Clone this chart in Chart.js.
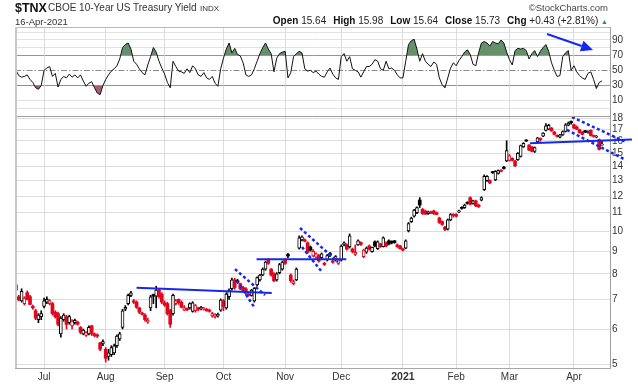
<!DOCTYPE html>
<html><head><meta charset="utf-8">
<script src="https://cdn.jsdelivr.net/npm/chart.js@4.4.1/dist/chart.umd.min.js"></script>
<style>
html,body{margin:0;padding:0;background:#fff;}
#wrap{position:relative;width:638px;height:384px;overflow:hidden;font-family:"Liberation Sans",Arial,sans-serif;color:#222;background:#fff;}
#c{position:absolute;left:0;top:0;width:638px;height:384px;}
.t{position:absolute;white-space:nowrap;}
.b{font-weight:bold;color:#111;}
.g{margin-left:7px;}
</style></head><body>
<div id="wrap">
<canvas id="c" width="638" height="384"></canvas>
<div class="t" style="left:15px;top:2px;font-weight:bold;font-size:12.5px;line-height:12px;color:#111;">$TNX</div>
<div class="t" style="left:48px;top:3px;font-size:10px;line-height:10px;color:#333;">CBOE 10-Year US Treasury Yield</div>
<div class="t" style="left:200px;top:5px;font-size:8px;line-height:8px;color:#333;">INDX</div>
<div class="t" style="left:15px;top:17px;font-size:9.5px;line-height:10px;color:#333;">16-Apr-2021</div>
<div class="t" style="right:30px;top:3px;font-size:9.5px;line-height:10px;color:#444;">©StockCharts.com</div>
<div class="t" style="right:30px;top:15.5px;font-size:10px;line-height:10px;color:#222;"><span class="b">Open</span> 15.64<span class="g b">High</span> 15.98<span class="g b">Low</span> 15.64<span class="g b">Close</span> 15.73<span class="g b">Chg</span> +0.43 (+2.81%) <span style="color:#2a9a2a;font-size:7px;">▲</span></div>
</div>
<script>
// ---- DATA ----
const monthIdx = [10,32,53,74,96,116,138,157,176,199];
const monthLabels = ['Jul','Aug','Sep','Oct','Nov','Dec','2021','Feb','Mar','Apr'];
const priceTicks = [5,6,7,8,9,10,11,12,13,14,15,16,17,18];
const rsiTicks = [10,30,50,70,90];
const rsiGrid = [0,10,30,50,70,80,90,100];

const open = [7.55,7.10,6.95,6.85,7.25,7.10,6.75,6.60,6.30,6.40,
6.75,6.90,6.85,6.85,6.55,6.50,5.85,6.30,6.40,6.20,
6.10,6.20,6.22,6.05,5.85,5.80,5.85,6.10,5.85,5.82,
5.58,5.55,5.40,5.20,5.25,5.30,5.50,5.70,6.05,6.65,
6.85,7.15,6.95,6.90,6.70,6.52,6.45,6.22,6.70,7.18,
7.12,7.35,7.20,6.88,6.85,6.60,6.50,6.85,7.00,6.90,
6.62,6.68,6.70,6.58,6.60,6.70,6.66,6.65,6.65,6.62,
6.42,6.40,6.42,6.62,6.95,6.70,7.10,7.40,7.75,7.72,
7.60,7.45,7.40,7.20,7.15,6.95,7.55,7.75,7.95,8.20,
8.60,8.20,8.00,7.75,8.05,8.20,8.60,8.85,7.95,7.60,
7.75,9.15,9.55,9.55,9.40,9.20,8.78,8.72,8.80,8.70,
8.45,8.60,8.90,8.55,8.60,8.45,8.60,9.30,9.30,9.20,
9.10,8.85,9.30,9.42,8.75,8.95,9.25,8.98,9.45,9.12,
9.35,9.22,9.40,9.50,9.48,9.50,9.30,9.25,9.10,9.15,
10.00,10.50,10.80,11.00,11.75,11.20,11.10,10.95,11.05,11.10,
11.00,10.70,10.50,10.20,10.10,10.60,10.90,10.90,11.05,11.30,
11.30,11.60,11.90,11.55,11.70,11.45,11.75,12.40,13.00,13.00,
13.60,13.05,13.50,13.72,13.95,14.40,14.45,14.60,14.40,14.50,
14.75,15.50,16.05,15.65,15.50,15.15,15.90,16.20,16.40,16.90,
17.00,17.10,16.75,16.45,16.30,16.50,16.80,17.35,17.70,17.40,
17.20,16.95,16.75,16.85,16.70,16.90,16.45,16.30,16.10,15.64];
const high = [7.60,7.15,7.40,7.10,7.32,7.15,6.80,6.65,6.50,6.60,
7.05,7.10,7.00,6.90,6.60,6.55,6.40,6.50,6.45,6.45,
6.30,6.32,6.25,6.08,6.00,5.92,6.10,6.12,5.88,5.85,
5.60,5.67,5.45,5.40,5.50,5.55,5.82,5.90,6.65,6.78,
7.20,7.30,7.00,6.95,6.72,6.55,6.50,6.35,7.15,7.20,
7.50,7.40,7.25,6.95,6.90,6.65,7.20,7.00,7.02,6.95,
6.78,6.70,6.88,6.92,6.82,6.72,6.75,6.72,6.68,6.66,
6.55,6.50,6.52,7.02,7.00,7.25,7.40,7.82,7.82,7.78,
7.62,7.50,7.45,7.22,7.38,7.45,7.88,7.98,8.25,8.55,
8.65,8.22,8.05,8.05,8.45,8.55,8.65,8.90,8.00,7.75,
8.25,9.75,9.75,9.60,9.45,9.25,9.08,8.92,8.85,8.92,
8.50,8.85,8.95,8.60,8.80,8.65,9.30,9.45,9.35,9.85,
9.15,9.30,9.55,9.45,9.10,9.20,9.30,9.20,9.50,9.50,
9.38,9.70,9.45,9.55,9.50,9.52,9.35,9.28,9.15,9.55,
10.45,10.75,11.20,11.35,11.90,11.25,11.15,11.10,11.10,11.15,
11.05,10.75,10.55,10.25,10.65,10.95,10.95,10.95,11.15,11.35,
11.50,11.65,11.95,11.75,11.75,11.50,11.95,13.40,13.35,13.05,
13.65,13.70,13.75,13.78,14.00,16.00,14.90,14.65,14.45,15.05,
15.65,15.85,16.10,15.70,15.55,15.50,16.30,16.25,16.70,17.50,
17.45,17.15,16.80,16.50,16.55,16.85,17.50,17.65,17.75,17.45,
17.30,17.00,16.80,16.90,16.85,16.95,16.50,16.45,16.15,15.98];
const low = [7.30,6.95,6.90,6.80,6.98,6.80,6.65,6.30,6.20,6.30,
6.70,6.85,6.80,6.45,6.35,6.10,5.75,6.25,6.00,6.15,
6.00,6.15,6.12,5.85,5.82,5.77,5.82,5.80,5.76,5.74,
5.36,5.50,5.05,5.10,5.20,5.25,5.45,5.65,6.00,6.60,
6.80,7.10,6.85,6.68,6.50,6.45,6.25,6.18,6.60,6.85,
6.70,7.05,6.85,6.75,6.45,6.05,6.45,6.80,6.82,6.70,
6.60,6.60,6.65,6.55,6.55,6.60,6.63,6.62,6.58,6.55,
6.38,6.35,6.38,6.58,6.60,6.65,7.00,7.35,7.38,7.62,
7.36,7.28,7.18,7.12,7.12,6.90,7.50,7.70,7.92,8.15,
8.40,7.90,7.68,7.70,8.00,8.15,8.40,8.70,7.65,7.55,
7.72,9.10,9.50,9.45,8.90,9.00,8.75,8.68,8.50,8.65,
8.35,8.55,8.75,8.45,8.55,8.40,8.55,9.25,9.05,9.15,
8.92,8.80,9.28,9.28,8.70,8.90,9.05,8.95,9.20,9.08,
9.18,9.20,9.20,9.30,9.35,9.38,9.18,9.10,9.02,9.12,
9.95,10.45,10.75,10.95,11.30,10.90,10.90,10.90,10.95,10.90,
10.88,10.40,10.30,10.02,10.05,10.55,10.75,10.75,11.00,11.20,
11.25,11.50,11.45,11.50,11.35,11.30,11.70,12.35,12.95,12.80,
13.50,13.00,13.45,13.60,13.80,14.35,14.40,14.40,13.98,14.45,
14.70,15.45,15.95,15.20,15.10,15.05,15.85,15.95,16.35,16.85,
16.95,16.80,16.50,16.30,16.25,16.45,16.75,17.30,17.45,17.05,
16.95,16.65,16.50,16.70,16.65,16.40,16.30,16.25,15.25,15.64];
const close = [7.35,6.98,7.30,7.05,7.00,6.82,6.70,6.35,6.45,6.50,
6.95,7.00,6.95,6.50,6.40,6.15,6.35,6.45,6.15,6.40,
6.25,6.28,6.15,5.90,5.97,5.90,6.05,5.85,5.80,5.78,
5.40,5.62,5.15,5.30,5.45,5.50,5.78,5.85,6.60,6.72,
7.15,7.25,6.90,6.72,6.55,6.48,6.30,6.28,7.10,7.12,
7.35,7.10,6.90,6.80,6.50,6.15,7.15,6.95,6.88,6.72,
6.70,6.63,6.85,6.88,6.78,6.65,6.72,6.68,6.60,6.58,
6.50,6.45,6.48,6.98,6.75,7.20,7.35,7.75,7.45,7.68,
7.40,7.30,7.22,7.15,7.35,7.42,7.85,7.95,8.20,8.50,
8.45,7.95,7.72,8.00,8.40,8.50,8.45,8.78,7.72,7.68,
8.20,9.65,9.70,9.48,8.95,9.05,9.00,8.88,8.55,8.88,
8.40,8.80,8.82,8.50,8.75,8.60,9.25,9.40,9.10,9.75,
8.98,8.95,9.50,9.32,9.05,9.15,9.10,9.18,9.25,9.45,
9.22,9.65,9.25,9.35,9.40,9.42,9.22,9.12,9.05,9.50,
10.40,10.70,11.15,11.30,11.45,10.95,10.92,11.05,10.98,10.95,
10.90,10.45,10.35,10.08,10.60,10.90,10.85,10.80,11.10,11.25,
11.45,11.55,11.50,11.70,11.40,11.35,11.90,13.30,13.30,12.85,
13.55,13.65,13.70,13.65,13.85,15.20,14.80,14.45,14.05,15.00,
15.60,15.80,15.98,15.25,15.15,15.45,16.25,16.10,16.65,17.30,
17.35,16.85,16.55,16.38,16.50,16.80,17.40,17.55,17.58,17.10,
17.00,16.70,16.55,16.78,16.80,16.45,16.38,16.40,15.30,15.73];
const rsi = [50,43,41,42,44,38,34,27,25,30, 50,53,55,42,46,28,38,42,40,45,
41,44,40,44,36,29,33,35,27,20, 18,30,38,44,49,52,56,65,80,84,
86,78,62,58,52,47,44,57,68,80, 74,62,53,45,34,27,62,55,49,48,
46,52,47,56,52,44,42,47,40,38, 42,33,29,52,66,78,86,73,79,71,
69,60,44,42,44,52,62,72,80,86, 78,72,48,66,72,74,75,40,47,68,
72,75,73,52,49,50,47,49,45,42, 41,48,53,45,40,38,68,72,62,68,
52,50,48,41,48,55,55,58,64,62, 52,50,62,52,53,50,44,40,40,62,
84,89,91,78,62,72,62,58,55,61, 58,40,31,27,40,53,60,56,63,68,
74,77,71,58,56,73,86,88,86,82, 88,86,85,90,86,74,64,57,76,79,
78,79,76,65,72,76,68,75,80,84, 75,60,50,42,43,68,73,76,50,56,
48,43,40,38,46,48,38,26,34,36];
// trend lines drawn on the chart, in [dayIndex, value] pairs
const trendSolid = [[[43.0,7.44],[91.2,7.24]],[[85.8,8.63],[117.8,8.63]],[[183.3,15.79],[219.7,16.11]]];
const trendDashed = [[[78.1,8.20],[88.8,7.16]],[[78.8,7.71],[85.2,6.69]],[[101.3,10.16],[114.8,8.51]],[[102.0,9.20],[109.1,8.08]],[[198.3,18.11],[217.5,15.90]],[[196.5,16.93],[217.5,14.48]]];
const rsiArrow = [[189.4,97.9],[205.8,76.8]];

// ---- STYLE ----
const RED='#e0061e', BLK='#000000', BLUE='#1428f0';
const FONT='"Liberation Sans", Arial, sans-serif';
const idx = close.map((_,i)=>i);
const candleColor = close.map((c,i)=> (i===0 ? c>=open[0] : c>=close[i-1]) ? BLK : RED);
const hollow = close.map((c,i)=> c>=open[i]);

const datasets = [];
datasets.push({type:'line', yAxisID:'yR', data: idx.map(i=>({x:i,y:rsi[i]})), borderColor:'rgba(0,0,0,0)', borderWidth:0, pointRadius:0,
  fill:{target:{value:70}, above:'#66906a', below:'rgba(0,0,0,0)'}, order:7});
datasets.push({type:'line', yAxisID:'yR', data: idx.map(i=>({x:i,y:rsi[i]})), borderColor:'rgba(0,0,0,0)', borderWidth:0, pointRadius:0,
  fill:{target:{value:30}, above:'rgba(0,0,0,0)', below:'#a85d6a'}, order:6});
datasets.push({type:'line', yAxisID:'yR', data: idx.map(i=>({x:i,y:rsi[i]})), borderColor:'#111', borderWidth:1, pointRadius:0, tension:0, fill:false, order:5});
datasets.push({type:'bar', yAxisID:'y', grouped:false, data: idx.map(i=>({x:i,y:[low[i],high[i]]})), backgroundColor:candleColor, barThickness:1, borderWidth:0, order:4});
datasets.push({type:'bar', yAxisID:'y', grouped:false, data: idx.map(i=>({x:i,y:[Math.min(open[i],close[i]),Math.max(open[i],close[i])]})),
  backgroundColor: idx.map(i=> hollow[i] ? '#ffffff' : candleColor[i]), borderColor:candleColor, borderWidth: idx.map(i=> hollow[i]?1:0),
  borderSkipped:false, barThickness:3, minBarLength:1, order:3});
trendSolid.forEach(seg=> datasets.push({type:'line', yAxisID:'y', data: seg.map(p=>({x:p[0],y:p[1]})), borderColor:BLUE, borderWidth:2, pointRadius:0, fill:false, clip:false, order:1}));
trendDashed.forEach(seg=> datasets.push({type:'line', yAxisID:'y', data: seg.map(p=>({x:p[0],y:p[1]})), borderColor:BLUE, borderWidth:2.5, borderDash:[3,2.5], pointRadius:0, fill:false, clip:false, order:1}));

const decor = {
  id:'decor',
  beforeDatasetsDraw(chart){
    const {ctx, chartArea:a, scales} = chart;
    const y50 = Math.round(scales.yR.getPixelForValue(50))+0.5;
    ctx.save();
    ctx.strokeStyle='#8a8a8a'; ctx.lineWidth=1; ctx.setLineDash([6,2,1.5,2]);
    ctx.beginPath(); ctx.moveTo(a.left,y50); ctx.lineTo(a.right,y50); ctx.stroke();
    ctx.restore();
  },
  afterDatasetsDraw(chart){
    const {ctx, chartArea:a, scales} = chart;
    ctx.save();
    // panel frame
    ctx.strokeStyle='#a0a0a0'; ctx.lineWidth=1;
    const sep = Math.round(scales.y.top)+0.5;
    ctx.beginPath(); ctx.moveTo(a.left,sep); ctx.lineTo(a.right,sep); ctx.stroke();
    ctx.strokeStyle='#b8b8b8';
    ctx.beginPath(); ctx.moveTo(a.left,a.top+0.5); ctx.lineTo(a.right,a.top+0.5); ctx.stroke();
    ctx.strokeStyle='#c8c8c8'; ctx.lineWidth=2;
    ctx.beginPath(); ctx.moveTo(a.left+1,a.top); ctx.lineTo(a.left+1,a.bottom); ctx.stroke();
    // arrow in RSI panel
    const x=scales.x, yR=scales.yR;
    const x0=x.getPixelForValue(rsiArrow[0][0]), y0=yR.getPixelForValue(rsiArrow[0][1]);
    const x1=x.getPixelForValue(rsiArrow[1][0]), y1=yR.getPixelForValue(rsiArrow[1][1]);
    const ang=Math.atan2(y1-y0,x1-x0), L=12, W=5.5;
    const bx=x1-L*Math.cos(ang), by=y1-L*Math.sin(ang);
    ctx.strokeStyle=BLUE; ctx.fillStyle=BLUE; ctx.lineWidth=2;
    ctx.beginPath(); ctx.moveTo(x0,y0); ctx.lineTo(bx,by); ctx.stroke();
    ctx.beginPath(); ctx.moveTo(x1,y1);
    ctx.lineTo(bx+W*Math.sin(ang), by-W*Math.cos(ang));
    ctx.lineTo(bx-W*Math.sin(ang), by+W*Math.cos(ang));
    ctx.closePath(); ctx.fill();
    ctx.restore();
  }
};

new Chart(document.getElementById('c'), {
  type:'bar',
  data:{datasets},
  options:{
    responsive:false, animation:false, devicePixelRatio:1,
    layout:{padding:{left:15, top:27, right:0, bottom:0}},
    plugins:{legend:{display:false}, tooltip:{enabled:false}},
    scales:{
      yR:{type:'linear', position:'right', stack:'panels', stackWeight:89, weight:0, min:-10.2, max:107.1,
        afterBuildTicks:s=>{s.ticks=rsiGrid.map(v=>({value:v}));},
        afterFit:s=>{s.width=28;},
        ticks:{autoSkip:false, padding:2, color:'#333', font:{family:FONT,size:10}, callback:v=> rsiTicks.includes(v)?String(v):''},
        grid:{drawTicks:false, color:c=>{const v=c.tick&&c.tick.value; return (v===70||v===30)?'#9a9a9a':(v===50?'rgba(0,0,0,0)':'#e2e2e2');}},
        border:{display:true, color:'#a0a0a0'}},
      y:{type:'logarithmic', position:'right', stack:'panels', stackWeight:252, weight:1, min:4.897, max:18.21,
        afterBuildTicks:s=>{s.ticks=priceTicks.map(v=>({value:v}));},
        afterFit:s=>{s.width=28;},
        ticks:{autoSkip:false, padding:2, color:'#333', font:{family:FONT,size:10}, callback:v=>String(v)},
        grid:{drawTicks:false, color:'#dcdcdc'},
        border:{display:true, color:'#a0a0a0'}},
      x:{type:'linear', position:'bottom', min:-0.357, max:211.86, offset:false,
        afterBuildTicks:s=>{s.ticks=monthIdx.map(v=>({value:v}));},
        afterFit:s=>{s.height=16;},
        ticks:{autoSkip:false, maxRotation:0, padding:3, color:'#333',
          font:c=>({family:FONT, size:(c.tick&&c.tick.value===138)?10.5:10, weight:(c.tick&&c.tick.value===138)?'bold':'normal'}),
          callback:v=>{const k=monthIdx.indexOf(v); return k>=0?monthLabels[k]:'';}},
        grid:{drawTicks:false, offset:false, color:'#dcdcdc'},
        border:{display:true, color:'#a8a8a8'}}
    }
  },
  plugins:[decor]
});
</script>
</body></html>
